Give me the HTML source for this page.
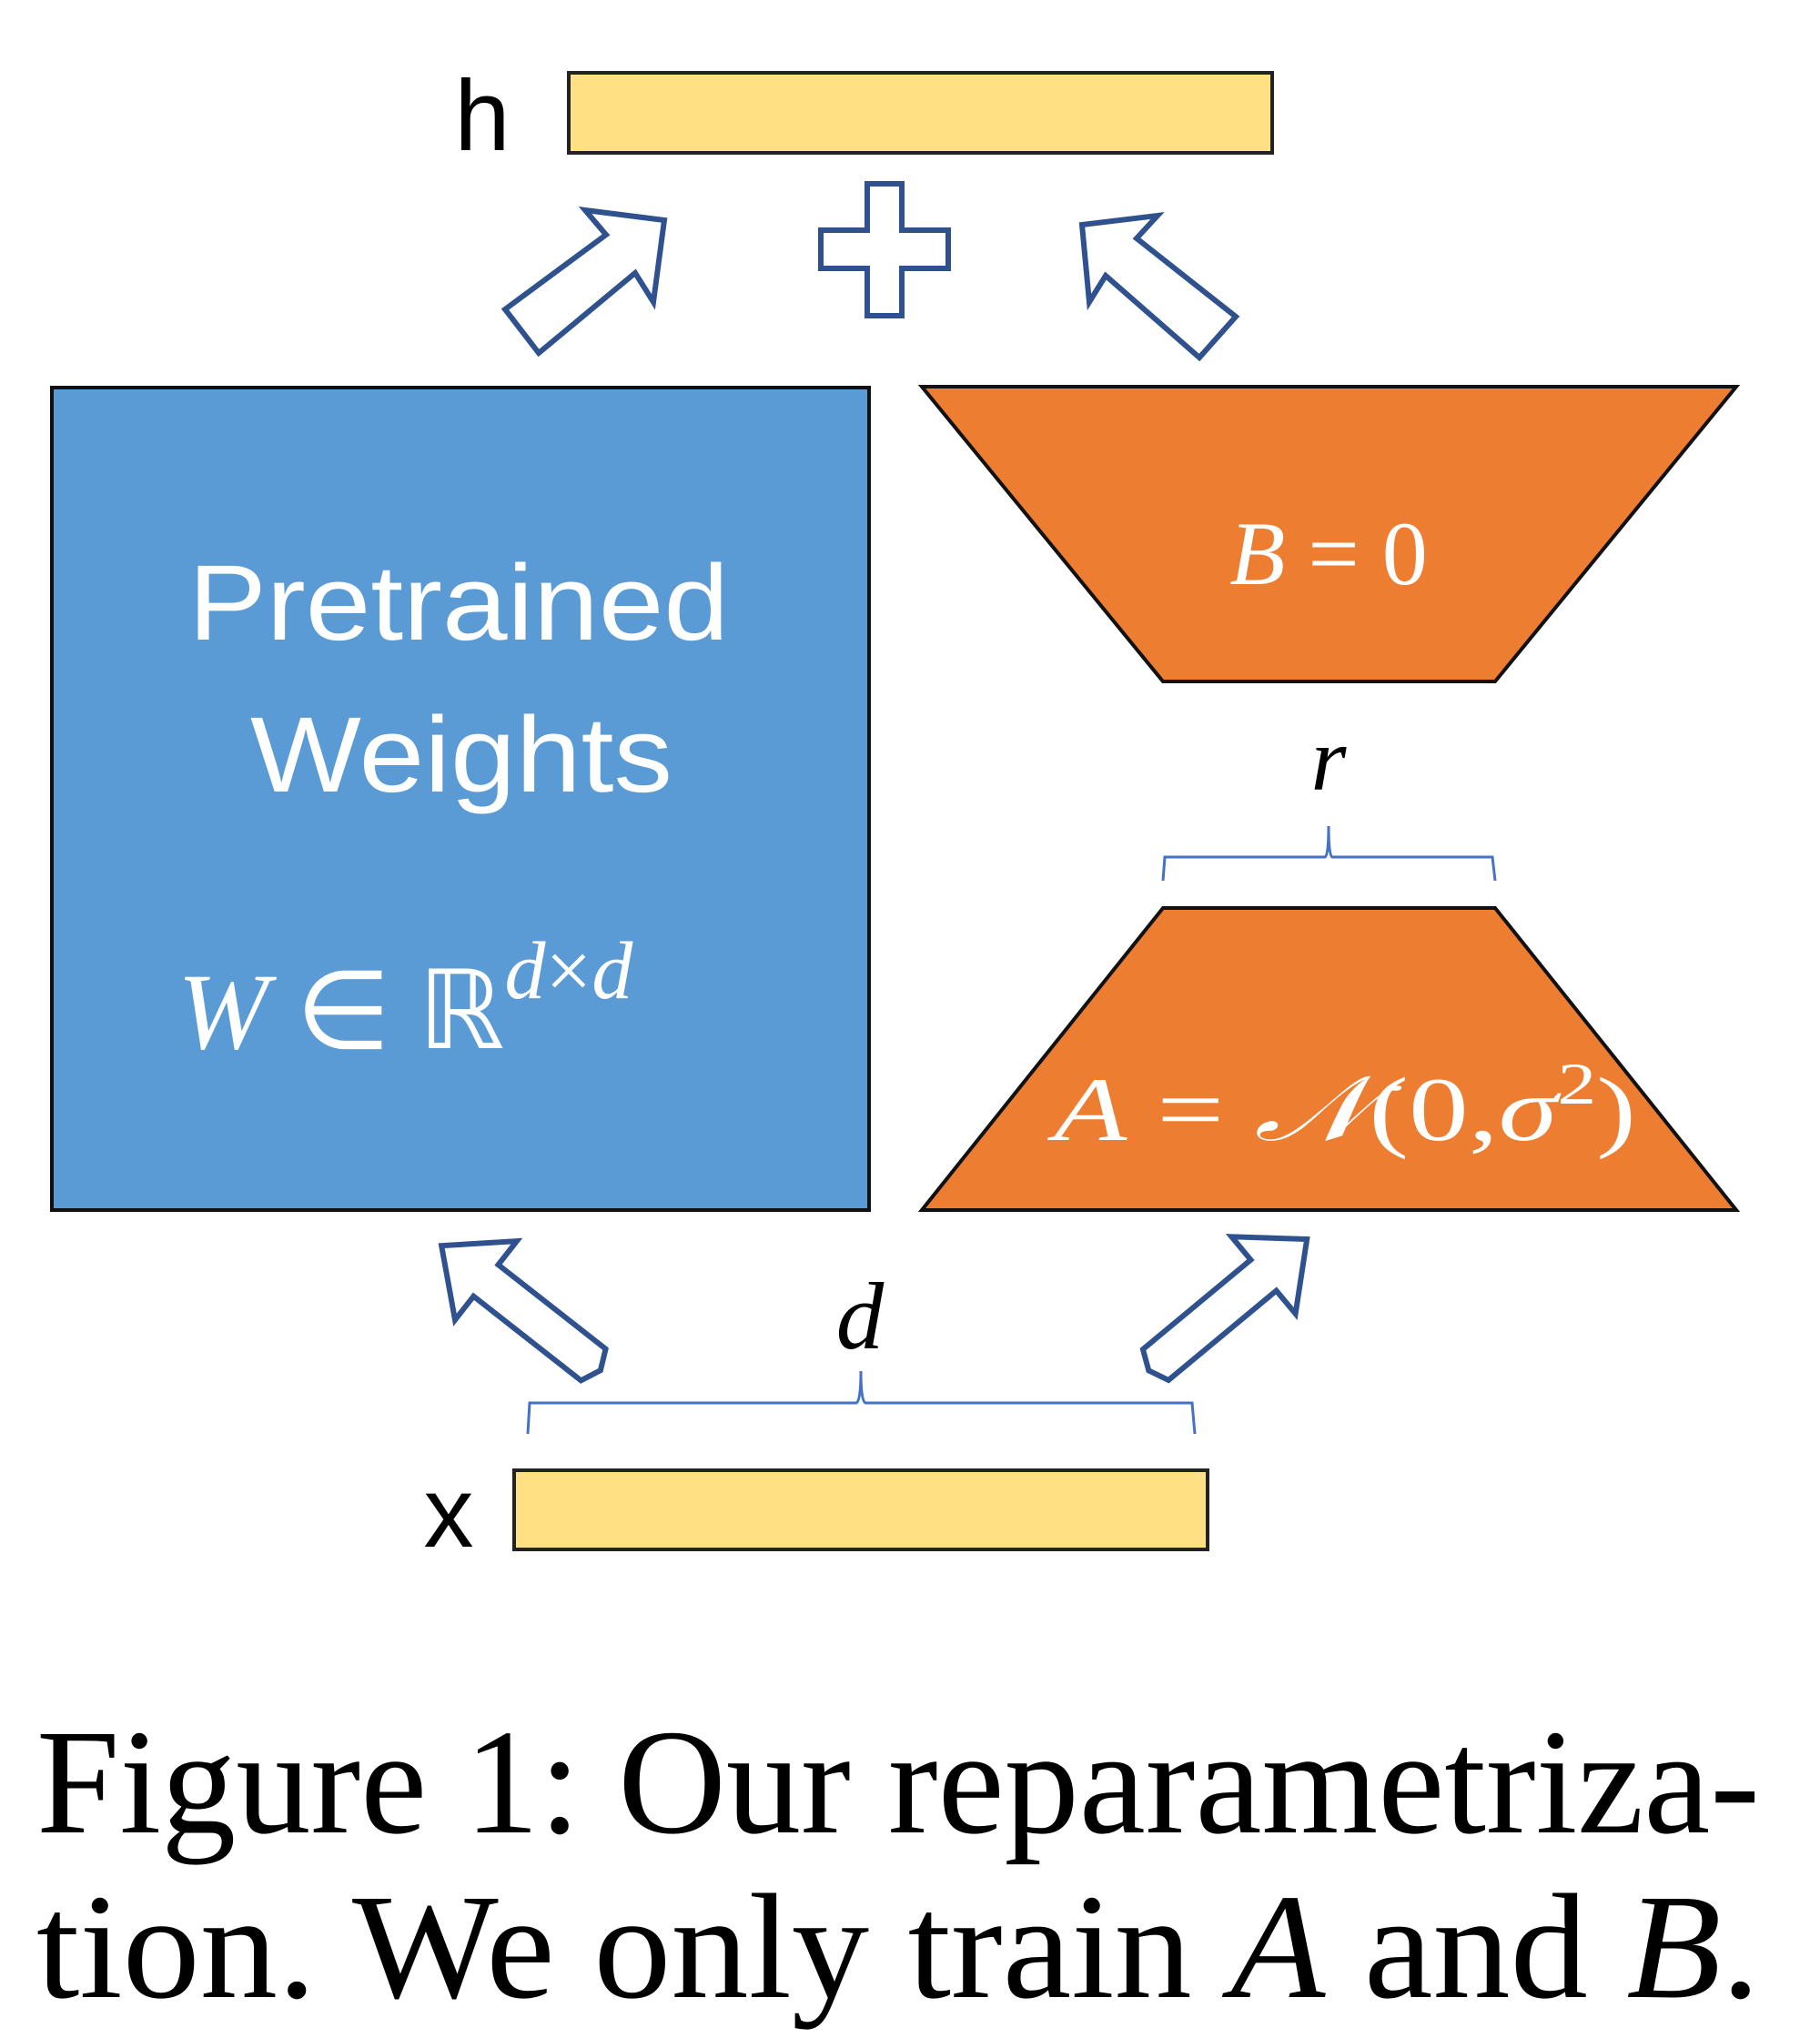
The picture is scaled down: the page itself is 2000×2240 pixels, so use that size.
<!DOCTYPE html>
<html><head><meta charset="utf-8"><style>html,body{margin:0;padding:0;background:#fff}svg{display:block}</style></head><body>
<svg width="2000" height="2240" viewBox="0 0 2000 2240" xmlns="http://www.w3.org/2000/svg">
<!-- h bar -->
<rect x="625" y="80" width="773" height="88" fill="#FFE083" stroke="#222" stroke-width="4"/>
<text x="530" y="165" font-family="Liberation Sans, sans-serif" font-size="110" text-anchor="middle">h</text>
<!-- top arrows -->
<g fill="#fff" stroke="#2F528F" stroke-width="6" stroke-linejoin="miter">
<polygon points="555,340 666,258 643,231 730,242 718,332 698,300 592,388"/>
<polygon points="1358,348 1249,262 1272,237 1189,247 1197,332 1215,303 1318,393"/>
<polygon points="953,202 991,202 991,253 1042,253 1042,295 991,295 991,347 953,347 953,295 902,295 902,253 953,253"/>
<g transform="translate(652,1500) rotate(218.1)"><polygon points="0,-22 150,-22 150,-55 212,0 150,55 150,22 0,22 -10,0"/></g>
<g transform="translate(1270,1500) rotate(-39.7)"><polygon points="0,-22 154,-22 154,-55 216,0 154,55 154,22 0,22 -10,0"/></g>
</g>
<!-- blue box -->
<rect x="57" y="426" width="898" height="904" fill="#5B9BD5" stroke="#111" stroke-width="4"/>
<text x="504" y="703" font-family="Liberation Sans, sans-serif" font-size="118" fill="#fff" text-anchor="middle" textLength="594" lengthAdjust="spacingAndGlyphs">Pretrained</text>
<text x="507" y="870" font-family="Liberation Sans, sans-serif" font-size="118" fill="#fff" text-anchor="middle" textLength="464" lengthAdjust="spacingAndGlyphs">Weights</text>
<text x="195" y="1152" font-family="Liberation Serif, serif" font-size="120" fill="#fff"><tspan font-style="italic">W</tspan> ∈ ℝ<tspan font-style="italic" font-size="90" dy="-55">d</tspan><tspan font-size="90">×</tspan><tspan font-style="italic" font-size="90">d</tspan></text>
<!-- B trapezoid -->
<polygon points="1013,425 1908,425 1643,749 1278,749" fill="#ED7D31" stroke="#111" stroke-width="4"/>
<text x="1460" y="642" font-family="Liberation Serif, serif" font-size="100" fill="#fff" text-anchor="middle"><tspan font-style="italic">B</tspan> = 0</text>
<!-- A trapezoid -->
<polygon points="1278,998 1643,998 1908,1330 1013,1330" fill="#ED7D31" stroke="#111" stroke-width="4"/>
<text x="1478" y="1253" font-family="Liberation Serif, serif" font-size="100" fill="#fff" text-anchor="middle" textLength="640" lengthAdjust="spacingAndGlyphs"><tspan font-style="italic">A</tspan> = <tspan font-style="italic">𝒩</tspan>(0,<tspan font-style="italic">σ</tspan><tspan font-size="65" dy="-40">2</tspan><tspan dy="40">)</tspan></text>
<!-- braces -->
<g fill="none" stroke="#4472C4" stroke-width="3">
<path d="M1278,968 L1280,942 L1456,942 Q1460,940 1460,908 Q1460,940 1464,942 L1640,942 L1643,968"/>
<path d="M580,1576 L582,1542 L941,1542 Q946,1540 946,1507 Q946,1540 951,1542 L1310,1542 L1313,1576"/>
</g>
<text x="1460" y="868" font-family="Liberation Serif, serif" font-style="italic" font-size="100" text-anchor="middle">r</text>
<text x="945" y="1482" font-family="Liberation Serif, serif" font-style="italic" font-size="105" text-anchor="middle">d</text>
<!-- x bar -->
<rect x="565" y="1616" width="762" height="87" fill="#FFE083" stroke="#222" stroke-width="4"/>
<text x="493" y="1700" font-family="Liberation Sans, sans-serif" font-size="110" text-anchor="middle">x</text>
<!-- caption -->
<text x="40" y="2014" font-family="Liberation Serif, serif" font-size="165" textLength="1894" lengthAdjust="spacingAndGlyphs">Figure 1: Our reparametriza-</text>
<text x="40" y="2195" font-family="Liberation Serif, serif" font-size="165" textLength="1894" lengthAdjust="spacingAndGlyphs">tion. We only train <tspan font-style="italic">A</tspan> and <tspan font-style="italic">B</tspan>.</text>
</svg>
</body></html>
